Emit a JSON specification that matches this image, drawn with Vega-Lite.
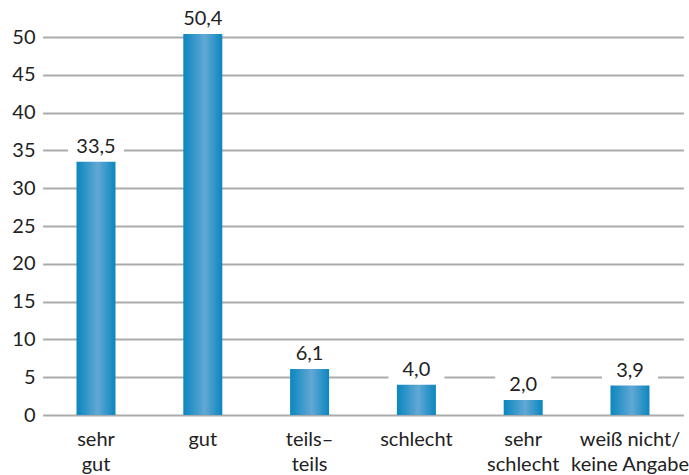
{
  "$schema": "https://vega.github.io/schema/vega-lite/v6.json",
  "width": 639,
  "height": 378,
  "autosize": {"type": "none"},
  "padding": {"left": 50, "top": 37, "right": 0, "bottom": 60},
  "background": "white",
  "config": {
    "view": {"stroke": null},
    "font": "Lato",
    "locale": {"number": {"decimal": ",", "thousands": ".", "grouping": [3], "currency": ["", " €"]}}
  },
  "data": {
    "values": [
      {"kategorie": "sehr\ngut", "anteil": 33.5},
      {"kategorie": "gut", "anteil": 50.4},
      {"kategorie": "teils–\nteils", "anteil": 6.1},
      {"kategorie": "schlecht", "anteil": 4.0},
      {"kategorie": "sehr\nschlecht", "anteil": 2.0},
      {"kategorie": "weiß nicht/\nkeine Angabe", "anteil": 3.9}
    ]
  },
  "encoding": {
    "x": {
      "field": "kategorie",
      "type": "nominal",
      "sort": null,
      "scale": {"range": [-7.4, 633.4], "paddingInner": 0.635, "paddingOuter": 0.3175},
      "axis": {
        "title": null,
        "labelAngle": 0,
        "domain": false,
        "ticks": false,
        "labelExpr": "split(datum.label, '\\n')",
        "labelFont": "Lato",
        "labelFontSize": 20,
        "labelColor": "#222222",
        "labelLineHeight": 25,
        "labelBaseline": "top",
        "labelPadding": 14
      }
    },
    "y": {
      "field": "anteil",
      "type": "quantitative",
      "scale": {"domain": [0, 50], "nice": false},
      "axis": {
        "title": null,
        "values": [0, 5, 10, 15, 20, 25, 30, 35, 40, 45, 50],
        "domain": false,
        "ticks": false,
        "labelPadding": 15,
        "labelFont": "Lato",
        "labelFontSize": 20,
        "labelColor": "#222222",
        "gridColor": "#ababab",
        "gridWidth": 1.8
      }
    }
  },
  "layer": [
    {
      "mark": {
        "type": "bar",
        "width": {"band": 1},
        "color": {
          "gradient": "linear",
          "x1": 0, "x2": 1, "y1": 0, "y2": 0,
          "stops": [
            {"offset": 0, "color": "#0a86bf"},
            {"offset": 0.55, "color": "#62a8d4"},
            {"offset": 1, "color": "#0a86bf"}
          ]
        }
      }
    },
    {
      "mark": {
        "type": "point",
        "shape": "M-1,-0.43L1,-0.43L1,0.43L-1,0.43Z",
        "size": 3136,
        "filled": true,
        "color": "white",
        "opacity": 1,
        "strokeWidth": 0,
        "yOffset": -13
      }
    },
    {
      "mark": {
        "type": "text",
        "baseline": "alphabetic",
        "dy": -9,
        "font": "Lato",
        "fontSize": 20,
        "color": "#222222"
      },
      "encoding": {
        "text": {"field": "anteil", "type": "quantitative", "format": ".1f"}
      }
    }
  ]
}
